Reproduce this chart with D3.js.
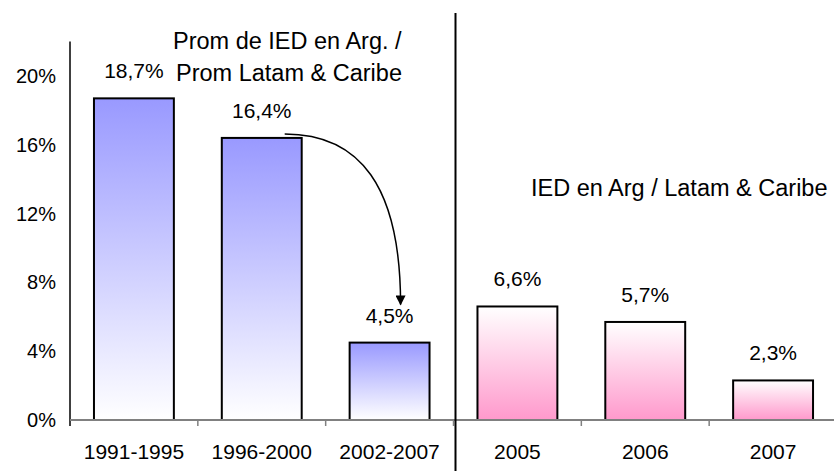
<!DOCTYPE html>
<html>
<head>
<meta charset="utf-8">
<script src="https://cdn.jsdelivr.net/npm/d3@7"></script>
<style>
  body { margin: 0; background: #fff; }
  svg { display: block; font-family: "Liberation Sans", Arial, sans-serif; }
</style>
</head>
<body>
<script>
// periodos (promedio) y años (anual), IED Argentina / Latam & Caribe, en %
const periodos = ["1991-1995", "1996-2000", "2002-2007"]
const promedios = [18.7, 16.4, 4.5]
const anios = ["2005", "2006", "2007"]
const anuales = [6.6, 5.7, 2.3]
const yTicks = [0, 4, 8, 12, 16, 20]
const notaProm = ["Prom de IED en Arg. /", "Prom Latam & Caribe"]
const notaAnual = "IED en Arg / Latam & Caribe"

const width = 834
const height = 471

const data = periodos.map((c, i) => ({ cat: c, v: promedios[i], grupo: "prom" }))
  .concat(anios.map((c, i) => ({ cat: c, v: anuales[i], grupo: "anual" })))

const es = d3.formatLocale({ decimal: ",", thousands: ".", grouping: [3], currency: ["$", ""] })
const fmt = es.format(".1f")

const x = d3.scaleBand()
  .domain(data.map(d => d.cat))
  .range([70, 837])
  .paddingInner(0.375)
  .paddingOuter(0.1875)

const y = d3.scaleLinear().domain([0, 22]).range([420, 41.6])

const svg = d3.select("body").append("svg")
  .attr("width", width)
  .attr("height", height)
  .attr("xmlns", "http://www.w3.org/2000/svg")

const defs = svg.append("defs")

const gBlue = defs.append("linearGradient").attr("id", "gBlue")
  .attr("x1", 0).attr("y1", 0).attr("x2", 0).attr("y2", 1)
gBlue.append("stop").attr("offset", "0%").attr("stop-color", "#9999ff")
gBlue.append("stop").attr("offset", "100%").attr("stop-color", "#ffffff")

const gPink = defs.append("linearGradient").attr("id", "gPink")
  .attr("x1", 0).attr("y1", 0).attr("x2", 0).attr("y2", 1)
gPink.append("stop").attr("offset", "0%").attr("stop-color", "#ffffff")
gPink.append("stop").attr("offset", "100%").attr("stop-color", "#ff99cc")

defs.append("marker")
  .attr("id", "head")
  .attr("viewBox", "0 0 10 10")
  .attr("refX", 9).attr("refY", 5)
  .attr("markerWidth", 11).attr("markerHeight", 10)
  .attr("markerUnits", "userSpaceOnUse")
  .attr("orient", "auto")
  .append("path")
  .attr("d", "M0,0 L10,5 L0,10 Z")
  .attr("fill", "#000")

// eje y
const yAxis = svg.append("g")
  .attr("transform", "translate(56,0)")
  .call(d3.axisLeft(y).tickValues(yTicks).tickSize(0).tickFormat(d => d + "%"))
yAxis.select(".domain").remove()
yAxis.selectAll("text")
  .attr("x", 0)
  .style("font-family", "Liberation Sans, Arial, sans-serif")
  .style("font-size", "20px")
  .attr("fill", "#000")

svg.append("line")
  .attr("x1", 70).attr("x2", 70)
  .attr("y1", y(22)).attr("y2", y(0) + 6)
  .attr("stroke", "#000").attr("stroke-width", 1.5)

// barras
svg.append("g")
  .selectAll("rect")
  .data(data)
  .join("rect")
  .attr("x", d => x(d.cat))
  .attr("y", d => y(d.v))
  .attr("width", x.bandwidth())
  .attr("height", d => y(0) - y(d.v))
  .attr("fill", d => d.grupo === "prom" ? "url(#gBlue)" : "url(#gPink)")
  .attr("stroke", "#000")
  .attr("stroke-width", 2)

// eje x
svg.append("line")
  .attr("x1", 70).attr("x2", width)
  .attr("y1", y(0)).attr("y2", y(0))
  .attr("stroke", "#808080").attr("stroke-width", 2)

const bordes = d3.range(1, data.length).map(i => x.range()[0] + i * x.step())
svg.append("g")
  .selectAll("line")
  .data(bordes)
  .join("line")
  .attr("x1", d => d).attr("x2", d => d)
  .attr("y1", y(0)).attr("y2", y(0) + 6)
  .attr("stroke", "#808080").attr("stroke-width", 1.5)

const xAxis = svg.append("g")
  .attr("transform", `translate(0,${y(0)})`)
  .call(d3.axisBottom(x).tickSize(0).tickPadding(24))
xAxis.select(".domain").remove()
xAxis.selectAll("text")
  .style("font-family", "Liberation Sans, Arial, sans-serif")
  .style("font-size", "21px")
  .attr("fill", "#000")

// separador entre promedios y años
const sep = x.range()[0] + periodos.length * x.step() + 2
svg.append("line")
  .attr("x1", sep).attr("x2", sep)
  .attr("y1", 13).attr("y2", height)
  .attr("stroke", "#000").attr("stroke-width", 2)

// etiquetas de valores
svg.append("g")
  .selectAll("text")
  .data(data)
  .join("text")
  .attr("x", d => x(d.cat) + x.bandwidth() / 2)
  .attr("y", d => y(d.v) - 20)
  .attr("text-anchor", "middle")
  .style("font-size", "21px")
  .text(d => fmt(d.v) + "%")

// notas
svg.append("g")
  .selectAll("text")
  .data(notaProm)
  .join("text")
  .attr("x", (d, i) => i === 0 ? 173 : 176)
  .attr("y", (d, i) => 49 + i * 32)
  .style("font-size", "23.5px")
  .text(d => d)

svg.append("text")
  .attr("x", 531)
  .attr("y", 196)
  .style("font-size", "23.5px")
  .text(notaAnual)

// flecha de 1996-2000 a 2002-2007
const x0 = x(periodos[1]) + x.bandwidth() - 17
const y0 = y(promedios[1]) - 4
const x1 = x(periodos[2]) + x.bandwidth() / 2 + 11
const y1 = y(promedios[2]) - 38
svg.append("path")
  .attr("d", `M${x0},${y0} C${x0 + 75},${y0} ${x1},${y0 + 52} ${x1},${y1}`)
  .attr("fill", "none")
  .attr("stroke", "#000")
  .attr("stroke-width", 1.5)
  .attr("marker-end", "url(#head)")
</script>
</body>
</html>
